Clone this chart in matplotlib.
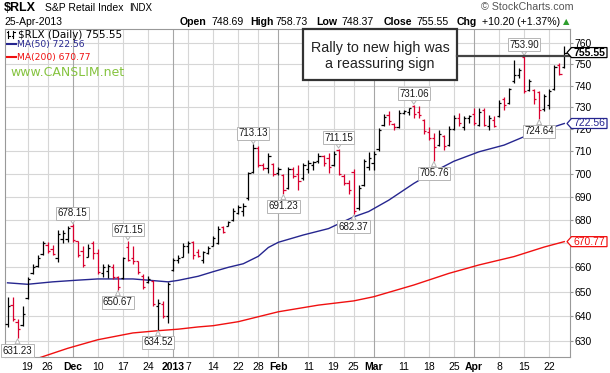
import matplotlib

matplotlib.use("Agg")
import matplotlib.pyplot as plt
import numpy as np
import pandas as pd
from matplotlib.lines import Line2D
from matplotlib.patches import Polygon, Rectangle
from matplotlib.ticker import FixedLocator, FixedFormatter, NullLocator
from matplotlib.transforms import IdentityTransform

plt.rcParams["font.family"] = ["Liberation Sans", "DejaVu Sans"]

W, H = 610, 373
RED_BAR = "#d9002f"
NAVY = "#26268f"
MA_RED = "#f01010"
GRID = "#d6d6d6"
GRID_MONTH = "#a6a6a6"

# trading calendar of the chart (NYSE holidays removed)
HOLIDAYS = ["2012-11-22", "2012-12-25", "2013-01-01", "2013-01-21", "2013-02-18", "2013-03-29"]
dates = pd.bdate_range("2012-11-13", "2013-04-25")
dates = dates[~dates.isin(pd.to_datetime(HOLIDAYS))]

# daily OHLC of $RLX
opens = [
    637.0, 644.5, 637.5, 636.5, 647.5, 657.5, 660.5, 665.5, 669.5, 667.5, 664.0, 672.0, 672.0,
    677.5, 671.0, 667.0, 664.5, 670.0, 666.0, 657.5, 658.5, 660.0, 656.0, 655.5, 668.5, 664.0,
    662.5, 656.5, 654.0, 654.5, 644.0, 645.0, 640.0, 659.0, 663.0, 664.5, 669.0, 670.5, 666.5,
    663.0, 666.0, 669.0, 670.0, 677.0, 677.5, 680.0, 683.0, 684.0, 689.5, 701.0, 711.5, 704.0,
    702.5, 704.5, 700.5, 699.5, 694.0, 702.0, 700.0, 698.0, 702.0, 704.0, 705.5, 708.0, 707.0,
    704.0, 710.5, 699.0, 696.0, 701.0, 685.0, 695.0, 703.0, 705.0, 711.0, 722.0, 726.5, 722.5,
    721.0, 727.5, 728.0, 730.5, 728.0, 724.0, 718.5, 716.0, 713.0, 717.0, 713.0, 720.0, 725.0,
    721.0, 725.0, 727.0, 722.0, 728.5, 721.5, 724.0, 726.0, 734.0, 732.0, 742.0, 745.0, 753.5,
    738.0, 738.0, 737.0, 729.0, 731.0, 738.5, 749.5, 748.69,
]
highs = [
    647.8, 647.8, 638.8, 644.3, 656.1, 661.5, 665.0, 671.0, 670.5, 669.5, 675.9, 675.6, 677.4,
    678.15, 671.2, 669.1, 669.8, 671.2, 667.8, 661.5, 661.5, 661.3, 656.5, 664.5, 671.15, 668.9,
    662.8, 657.3, 656.5, 654.8, 647.0, 646.2, 653.8, 664.1, 665.0, 670.4, 671.0, 671.0, 667.6,
    667.0, 669.0, 673.2, 677.5, 677.5, 679.6, 685.2, 686.6, 687.3, 701.0, 713.13, 712.3, 704.6,
    709.1, 705.0, 703.2, 699.8, 703.2, 703.2, 703.8, 704.6, 706.0, 705.5, 709.1, 708.5, 709.1,
    710.0, 711.15, 699.8, 697.5, 702.0, 695.3, 706.5, 709.5, 710.0, 720.5, 726.7, 728.2, 722.8,
    728.8, 728.8, 729.7, 731.06, 730.5, 724.7, 721.0, 718.2, 719.7, 717.4, 721.2, 726.5, 727.3,
    725.8, 726.5, 729.5, 729.5, 729.5, 726.5, 726.0, 733.3, 734.8, 739.1, 752.0, 748.3, 753.90,
    742.9, 738.5, 737.6, 736.0, 738.3, 749.8, 750.6, 758.73,
]
lows = [
    635.5, 638.0, 631.23, 636.0, 647.1, 657.4, 660.2, 665.0, 666.0, 665.0, 662.2, 670.0, 670.5,
    670.5, 664.3, 660.2, 664.3, 663.6, 657.4, 656.0, 655.5, 655.2, 650.67, 655.0, 662.5, 661.5,
    657.3, 651.0, 653.5, 644.2, 634.52, 639.3, 637.2, 658.6, 662.0, 664.5, 666.0, 663.3, 664.5,
    662.0, 665.5, 668.8, 669.7, 674.6, 677.3, 679.6, 682.4, 681.7, 688.5, 700.3, 703.2, 701.8,
    700.3, 698.9, 699.5, 691.23, 693.5, 698.1, 693.0, 697.5, 700.5, 701.7, 704.7, 703.5, 700.3,
    703.5, 699.5, 695.3, 691.0, 682.37, 684.2, 694.5, 701.5, 701.5, 710.0, 721.2, 722.0, 719.7,
    720.5, 727.0, 726.5, 725.0, 725.0, 718.0, 715.0, 705.76, 712.5, 710.5, 712.5, 719.7, 721.2,
    719.7, 722.7, 722.0, 721.2, 721.2, 719.7, 720.8, 725.5, 728.5, 731.5, 741.2, 743.7, 736.5,
    737.3, 731.5, 724.64, 728.4, 729.2, 738.0, 745.0, 748.37,
]
closes = [
    644.0, 639.0, 635.0, 641.0, 655.0, 660.0, 664.0, 670.0, 667.0, 665.5, 674.0, 674.5, 676.5,
    671.5, 665.0, 661.0, 668.0, 666.0, 658.0, 660.0, 660.5, 656.0, 652.0, 664.0, 663.0, 662.5,
    658.0, 652.0, 655.0, 645.0, 645.5, 640.0, 653.0, 663.0, 664.0, 669.0, 670.0, 665.0, 664.8,
    666.5, 668.0, 672.5, 676.0, 675.0, 679.0, 684.0, 685.5, 686.0, 700.3, 711.5, 704.0, 702.5,
    708.0, 700.0, 702.0, 693.0, 702.0, 699.0, 697.0, 704.0, 705.0, 705.3, 708.0, 705.0, 703.0,
    709.0, 700.0, 696.0, 693.0, 684.0, 694.0, 705.5, 707.0, 709.0, 719.5, 725.5, 723.5, 721.0,
    727.5, 728.3, 729.5, 727.0, 726.5, 719.0, 716.0, 712.0, 718.0, 712.5, 720.0, 725.0, 723.0,
    725.0, 726.0, 723.0, 728.0, 722.0, 725.0, 721.5, 732.0, 731.0, 738.5, 745.0, 747.5, 737.5,
    742.0, 734.0, 728.5, 735.0, 737.5, 748.5, 745.35, 755.55,
]

# moving averages
ma50_dates = [
    "2012-11-13", "2012-11-19", "2012-11-27", "2012-12-04", "2012-12-10", "2012-12-19",
    "2012-12-24", "2012-12-31", "2013-01-03", "2013-01-09", "2013-01-14", "2013-01-17",
    "2013-01-23", "2013-01-28", "2013-01-30", "2013-02-01", "2013-02-08", "2013-02-15",
    "2013-02-20", "2013-02-25", "2013-02-28", "2013-03-06", "2013-03-13", "2013-03-19",
    "2013-03-25", "2013-04-02", "2013-04-09", "2013-04-15", "2013-04-19", "2013-04-25",
]
ma50_values = [
    653.6, 653.0, 654.0, 654.7, 655.2, 655.2, 654.7, 654.0, 654.6, 656.3, 658.2, 660.0,
    661.5, 664.6, 668.3, 670.5, 673.6, 676.3, 678.3, 681.3, 683.6, 688.5, 695.8, 701.0,
    705.6, 709.8, 712.8, 716.6, 719.6, 722.56,
]
ma200_dates = [
    "2012-11-19", "2012-11-23", "2012-11-30", "2012-12-10", "2012-12-19", "2012-12-27",
    "2013-01-03", "2013-01-09", "2013-01-14", "2013-01-22", "2013-02-01", "2013-02-13",
    "2013-02-25", "2013-03-01", "2013-03-13", "2013-03-22", "2013-04-02", "2013-04-11",
    "2013-04-19", "2013-04-25",
]
ma200_values = [
    622.0, 623.9, 627.2, 630.6, 633.3, 634.2, 634.8, 635.7, 636.2, 637.8, 641.8, 644.5,
    646.2, 647.9, 652.7, 657.5, 661.0, 664.5, 668.5, 670.77,
]

peak_dates = ["2012-12-03", "2012-12-18", "2013-01-25", "2013-02-20", "2013-03-13", "2013-04-15"]
trough_dates = ["2012-11-15", "2012-12-14", "2012-12-27", "2013-02-04", "2013-02-25", "2013-03-19", "2013-04-18"]

xtick_dates = [
    "2012-11-19", "2012-11-26", "2012-12-03", "2012-12-10", "2012-12-17", "2012-12-24",
    "2013-01-02", "2013-01-07", "2013-01-14", "2013-01-22", "2013-01-28", "2013-02-01",
    "2013-02-11", "2013-02-19", "2013-02-25", "2013-03-01", "2013-03-11", "2013-03-18",
    "2013-03-25", "2013-04-01", "2013-04-08", "2013-04-15", "2013-04-22",
]
xtick_labels = ["19", "26", "Dec", "10", "17", "24", "2013", "7", "14", "22", "28", "Feb",
                "11", "19", "25", "Mar", "11", "18", "25", "Apr", "8", "15", "22"]
month_labels = {"Dec", "2013", "Feb", "Mar", "Apr"}
yticks = list(range(630, 770, 10))


def idx(day_list):
    return dates.get_indexer(pd.to_datetime(day_list))


def px(x, y):
    """pixel position (top-left origin) -> figure fraction."""
    return x / W, 1 - y / H


fig = plt.figure(figsize=(W / 100, H / 100), dpi=100)
ax = fig.add_axes([4.7 / W, 1 - 356.7 / H, (570 - 4.7) / W, (356.7 - 29.3) / H])

x = np.arange(len(dates))
colors = ["black"] + ["black" if closes[i] >= closes[i - 1] else RED_BAR for i in range(1, len(x))]

ax.vlines(x, lows, highs, colors=colors, lw=0.9, zorder=3)
ax.hlines(opens, x - 0.45, x, colors=colors, lw=0.9, zorder=3)
ax.hlines(closes, x, x + 0.45, colors=colors, lw=0.9, zorder=3)

ax.plot(idx(ma50_dates), ma50_values, color=NAVY, lw=1.0, zorder=2)
ax.plot(idx(ma200_dates), ma200_values, color=MA_RED, lw=1.0, zorder=2)

ax.set_yscale("log")
ax.set_ylim(623.9, 766.7)
ax.set_xlim(-0.56, 112.14)

ax.yaxis.tick_right()
ax.yaxis.set_major_locator(FixedLocator(yticks))
ax.yaxis.set_major_formatter(FixedFormatter([str(t) for t in yticks]))
ax.yaxis.set_minor_locator(NullLocator())
ax.tick_params(axis="y", length=2, color="#999999", pad=1.5, labelsize=7.5)

xt = idx(xtick_dates)
ax.set_xticks(xt)
ax.set_xticklabels(xtick_labels)
ax.tick_params(axis="x", length=0, pad=3.5, labelsize=7.5)
for lbl in ax.get_xticklabels():
    if lbl.get_text() in month_labels:
        lbl.set_fontweight("bold")

for t in yticks:
    ax.axhline(t, color=GRID, lw=0.8, zorder=0)
for pos, lab in zip(xt, xtick_labels):
    ax.axvline(pos, color=GRID_MONTH if lab in month_labels else GRID, lw=0.8, zorder=0)

for s in ax.spines.values():
    s.set_color("#999999")
    s.set_linewidth(0.8)

# high / low value flags
box = dict(boxstyle="square,pad=0.15", fc="white", ec="#b5b5b5", lw=0.7)
arrow = dict(arrowstyle="wedge,tail_width=0.5", fc="white", ec="#b5b5b5", lw=0.7, shrinkA=0, shrinkB=0.5)
for i in idx(peak_dates):
    ax.annotate(f"{highs[i]:.2f}", xy=(i, highs[i]), xytext=(0, 8), textcoords="offset points",
                ha="center", va="center", fontsize=7, color="#1a1a1a", bbox=box, arrowprops=arrow, zorder=4)
for i in idx(trough_dates):
    ax.annotate(f"{lows[i]:.2f}", xy=(i, lows[i]), xytext=(0, -9), textcoords="offset points",
                ha="center", va="center", fontsize=7, color="#1a1a1a", bbox=box, arrowprops=arrow, zorder=4)

# callout box and the line at the new-high level
top_i = idx(["2013-04-15"])[0]
ax.add_patch(Rectangle((0.527, 0.845), 0.273, 0.155, transform=ax.transAxes, fc="white",
                       ec="#333333", lw=1.6, zorder=6, clip_on=False))
ax.text(0.664, 0.944, "Rally to new high was", transform=ax.transAxes, ha="center", va="center",
        fontsize=10.3, color="#222222", zorder=7)
ax.text(0.664, 0.895, "a reassuring sign", transform=ax.transAxes, ha="center", va="center",
        fontsize=10.3, color="#222222", zorder=7)
ax.plot([0.8, 1.0], [highs[top_i], highs[top_i]], transform=ax.get_yaxis_transform(),
        color="#444444", lw=1.6, zorder=6, clip_on=False)

# header
fig.text(*px(4, 8), "$RLX", fontsize=9, fontweight="bold", va="center")
fig.text(*px(45, 8), "S&P Retail Index", fontsize=7.5, va="center")
fig.text(*px(129, 8), "INDX", fontsize=7, va="center")
fig.text(*px(481, 7.5), "\u00a9 StockCharts.com", fontsize=7.7, color="#555555", va="center")
fig.text(*px(4, 22), "25-Apr-2013", fontsize=7.5, va="center")
chg = closes[-1] - closes[-2]
pct = chg / closes[-2] * 100
header = [
    (180, "Open", True), (211.7, f"{opens[-1]:.2f}", False),
    (250, "High", True), (275.3, f"{highs[-1]:.2f}", False),
    (316.7, "Low", True), (341.7, f"{lows[-1]:.2f}", False),
    (383.3, "Close", True), (416.7, f"{closes[-1]:.2f}", False),
    (456.7, "Chg", True), (481.7, f"+{chg:.2f} (+{pct:.2f}%)", False),
]
for hx, s, bold in header:
    fig.text(*px(hx, 22), s, fontsize=7.6, fontweight="bold" if bold else "normal", va="center")
fig.text(*px(563, 21.5), "\u25b2", fontsize=6, color="#2e9e2e", va="center", family="DejaVu Sans")

# legend block inside the plot
ident = IdentityTransform()
for seg in [([8, 8], [30.5, 37.5]), ([6.5, 8], [32, 32]), ([8, 9.5], [36, 36]),
            ([13, 13], [30.5, 37.5]), ([11.5, 13], [36, 36]), ([13, 14.5], [32, 32])]:
    fig.add_artist(Line2D(seg[0], [H - v for v in seg[1]], color="black", lw=0.8, transform=ident))
fig.add_artist(Line2D([6.7, 16], [H - 43.8, H - 43.8], color=NAVY, lw=1.5, transform=ident))
fig.add_artist(Line2D([6.7, 16], [H - 56.7, H - 56.7], color=MA_RED, lw=1.5, transform=ident))
fig.text(*px(18.3, 35), f"$RLX (Daily) {closes[-1]:.2f}", fontsize=7.5, va="center", family="DejaVu Sans")
fig.text(*px(17.3, 44.5), f"MA(50) {ma50_values[-1]:.2f}", fontsize=6.6, color=NAVY, va="center",
         family="DejaVu Sans")
fig.text(*px(17.3, 57.3), f"MA(200) {ma200_values[-1]:.2f}", fontsize=6.6, color=MA_RED, va="center",
         family="DejaVu Sans")
fig.text(*px(10, 72), "www.CANSLIM.net", fontsize=9, color="#86c440", va="center", family="DejaVu Sans")


# price tags on the right axis
def price_tag(value, color, bold):
    y = ax.transData.transform((0, value))[1]
    x0 = ax.transAxes.transform((1, 0))[0] - 3
    pts = [(x0, y), (x0 + 4.5, y + 5), (x0 + 40, y + 5), (x0 + 40, y - 5), (x0 + 4.5, y - 5)]
    fig.add_artist(Polygon(pts, closed=True, transform=ident, fc="white", ec=color, lw=0.9, zorder=8))
    fig.text(x0 + 22.5, y, f"{value:.2f}", transform=ident, ha="center", va="center", fontsize=7.5,
             fontweight="bold" if bold else "normal", color=color, zorder=9)


price_tag(closes[-1], "black", True)
price_tag(ma50_values[-1], NAVY, False)
price_tag(ma200_values[-1], MA_RED, False)

fig.savefig("out.png", dpi=100)
